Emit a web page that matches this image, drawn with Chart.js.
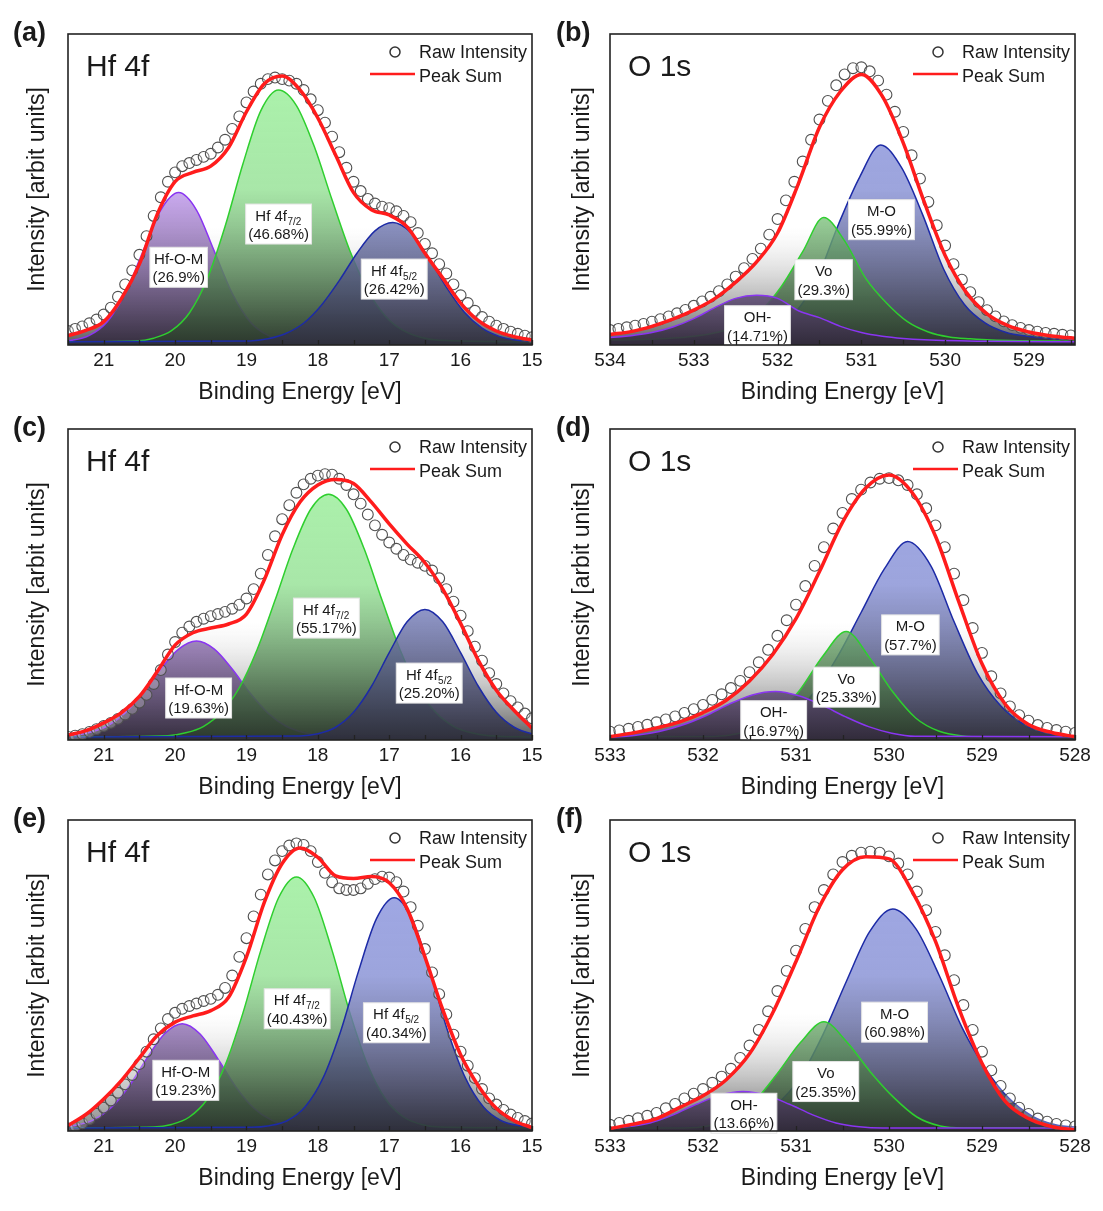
<!DOCTYPE html>
<html>
<head>
<meta charset="utf-8">
<title>XPS Hf 4f / O 1s</title>
<script src="https://cdn.jsdelivr.net/npm/chart.js@4.4.1/dist/chart.umd.min.js"></script>
<style>
  html, body { margin: 0; padding: 0; background: #fff; }
  #page { position: relative; width: 1103px; height: 1211px; overflow: hidden; }
  .panel { position: absolute; }
  .tag { position: absolute; font: bold 27px "Liberation Sans", Arial, sans-serif; line-height: 27px; color: #1a1a1a; }
</style>
</head>
<body>
<div id="page">
  <div class="panel" style="left:0;top:0"><canvas id="cA" width="550" height="410"></canvas></div>
  <div class="panel" style="left:543px;top:0"><canvas id="cB" width="560" height="410"></canvas></div>
  <div class="panel" style="left:0;top:395px"><canvas id="cC" width="550" height="410"></canvas></div>
  <div class="panel" style="left:543px;top:395px"><canvas id="cD" width="560" height="410"></canvas></div>
  <div class="panel" style="left:0;top:786px"><canvas id="cE" width="550" height="410"></canvas></div>
  <div class="panel" style="left:543px;top:786px"><canvas id="cF" width="560" height="410"></canvas></div>
  <div class="tag" style="left:13px;top:19px">(a)</div>
  <div class="tag" style="left:556px;top:19px">(b)</div>
  <div class="tag" style="left:13px;top:414px">(c)</div>
  <div class="tag" style="left:556px;top:414px">(d)</div>
  <div class="tag" style="left:13px;top:805px">(e)</div>
  <div class="tag" style="left:556px;top:805px">(f)</div>
</div>
<script>
// ---- axes ----
const hfTicks = [21, 20, 19, 18, 17, 16, 15];
const hfMinor = [21.5, 20.5, 19.5, 18.5, 17.5, 16.5, 15.5];
const oTicksB = [534, 533, 532, 531, 530, 529];
const oMinorB = [533.5, 532.5, 531.5, 530.5, 529.5, 528.5];
const oTicks = [533, 532, 531, 530, 529, 528];
const oMinor = [532.5, 531.5, 530.5, 529.5, 528.5];

// ---- energy grids ----
const hfRawE = [21.5, 21.4, 21.3, 21.2, 21.1, 21.0, 20.9, 20.8, 20.7, 20.6, 20.5, 20.4, 20.3, 20.2, 20.1, 20.0,
  19.9, 19.8, 19.7, 19.6, 19.5, 19.4, 19.3, 19.2, 19.1, 19.0, 18.9, 18.8, 18.7, 18.6, 18.5, 18.4, 18.3, 18.2, 18.1, 18.0,
  17.9, 17.8, 17.7, 17.6, 17.5, 17.4, 17.3, 17.2, 17.1, 17.0, 16.9, 16.8, 16.7, 16.6, 16.5, 16.4, 16.3, 16.2, 16.1, 16.0,
  15.9, 15.8, 15.7, 15.6, 15.5, 15.4, 15.3, 15.2, 15.1, 15.0];
const hfSumE = [21.5, 21.25, 21.0, 20.75, 20.5, 20.25, 20.0, 19.75, 19.5, 19.25, 19.0, 18.75, 18.5, 18.25, 18.0,
  17.75, 17.5, 17.25, 17.0, 16.75, 16.5, 16.25, 16.0, 15.75, 15.5, 15.25, 15.0];
const oRawEb = [534.0, 533.9, 533.8, 533.7, 533.6, 533.5, 533.4, 533.3, 533.2, 533.1, 533.0, 532.9, 532.8, 532.7, 532.6,
  532.5, 532.4, 532.3, 532.2, 532.1, 532.0, 531.9, 531.8, 531.7, 531.6, 531.5, 531.4, 531.3, 531.2, 531.1, 531.0,
  530.9, 530.8, 530.7, 530.6, 530.5, 530.4, 530.3, 530.2, 530.1, 530.0, 529.9, 529.8, 529.7, 529.6, 529.5, 529.4,
  529.3, 529.2, 529.1, 529.0, 528.9, 528.8, 528.7, 528.6, 528.5];
const oSumEb = [534.0, 533.75, 533.5, 533.25, 533.0, 532.75, 532.5, 532.25, 532.0, 531.75, 531.5, 531.25, 531.0,
  530.75, 530.5, 530.25, 530.0, 529.75, 529.5, 529.25, 529.0, 528.75, 528.5, 528.25];
const oRawE = [533.0, 532.9, 532.8, 532.7, 532.6, 532.5, 532.4, 532.3, 532.2, 532.1, 532.0, 531.9, 531.8, 531.7, 531.6,
  531.5, 531.4, 531.3, 531.2, 531.1, 531.0, 530.9, 530.8, 530.7, 530.6, 530.5, 530.4, 530.3, 530.2, 530.1, 530.0,
  529.9, 529.8, 529.7, 529.6, 529.5, 529.4, 529.3, 529.2, 529.1, 529.0, 528.9, 528.8, 528.7, 528.6, 528.5, 528.4,
  528.3, 528.2, 528.1, 528.0];
const oSumE = [533.0, 532.75, 532.5, 532.25, 532.0, 531.75, 531.5, 531.25, 531.0, 530.75, 530.5, 530.25, 530.0,
  529.75, 529.5, 529.25, 529.0, 528.75, 528.5, 528.25, 528.0];

// ---- (a) Hf 4f ----
const aRaw = [4.5, 5.2, 6.0, 7.0, 8.2, 9.8, 12.0, 15.5, 19.5, 24.0, 29.0, 35.0, 41.5, 47.5, 52.5, 55.5,
  57.5, 58.5, 59.5, 60.5, 61.5, 63.5, 66.0, 69.5, 73.5, 78.0, 81.5, 84.0, 85.5, 86.0, 85.5, 85.0, 84.0, 82.0, 79.0, 75.5,
  71.5, 67.0, 62.0, 57.0, 52.5, 49.5, 47.0, 45.5, 44.5, 44.0, 43.0, 41.5, 39.5, 36.0, 32.5, 29.5, 26.0, 23.0, 19.5, 16.0,
  13.5, 11.0, 9.0, 7.5, 6.2, 5.2, 4.3, 3.6, 3.0, 2.5];
const aSum = [3.0, 4.7, 7.5, 15.0, 26.0, 42.0, 52.5, 55.5, 57.5, 63.5, 75.0, 84.0, 86.5, 82.0, 73.0,
  61.0, 49.0, 43.5, 41.8, 38.0, 29.5, 21.5, 13.5, 7.8, 4.5, 2.7, 1.6];
const aOMx = [21.7, 21.45, 21.2, 20.95, 20.7, 20.45, 20.2, 19.95, 19.7, 19.45, 19.2, 18.95, 18.7, 18.45, 18.2, 15.0];
const aOMy = [1.1, 1.5, 3.1, 7.5, 16.6, 30.1, 43.4, 49.0, 43.4, 30.1, 16.6, 7.5, 3.1, 1.5, 1.1, 1.0];
const a72x = [21.7, 20.55, 20.3, 20.05, 19.8, 19.55, 19.3, 19.05, 18.8, 18.55, 18.3, 18.05, 17.8, 17.55, 17.3, 17.05, 16.8, 16.55, 16.3, 15.0];
const a72y = [1.0, 1.3, 2.2, 4.6, 10.3, 21.2, 38.1, 58.2, 75.3, 82.0, 77.0, 63.8, 46.6, 30.2, 17.5, 9.2, 4.6, 2.4, 1.5, 1.0];
const a52x = [21.7, 18.95, 18.7, 18.45, 18.2, 17.95, 17.7, 17.45, 17.2, 16.95, 16.7, 16.45, 16.2, 15.95, 15.7, 15.45, 15.2, 14.95];
const a52y = [1.0, 1.3, 2.0, 3.7, 7.0, 12.8, 20.7, 29.6, 36.7, 39.4, 36.2, 28.1, 18.6, 10.6, 5.4, 2.7, 1.5, 1.2];

// ---- (c) Hf 4f ----
const cRaw = [1.0, 1.4, 1.9, 2.6, 3.5, 4.5, 5.5, 6.8, 8.2, 10.0, 12.0, 14.5, 18.0, 22.5, 27.5, 31.5,
  34.5, 36.5, 38.0, 39.0, 39.8, 40.5, 41.2, 42.2, 43.5, 45.5, 48.5, 53.5, 59.5, 65.5, 71.0, 75.5, 79.5, 82.2, 84.0, 85.0,
  85.5, 85.3, 84.0, 82.0, 79.0, 76.0, 72.5, 69.0, 66.0, 63.5, 61.5, 59.5, 58.0, 57.0, 56.0, 54.5, 52.0, 48.5, 44.5, 40.0,
  35.0, 30.0, 25.5, 21.5, 18.0, 15.0, 12.5, 10.5, 8.5, 7.0];
const cSum = [1.6, 3.0, 5.5, 8.8, 14.0, 22.0, 30.5, 34.5, 36.0, 37.3, 40.5, 51.5, 66.0, 76.5, 82.0,
  83.8, 82.5, 76.5, 69.5, 63.0, 57.0, 48.5, 37.5, 25.5, 16.0, 9.5, 3.8];
const cOMx = [21.7, 21.45, 21.2, 20.95, 20.7, 20.45, 20.2, 19.95, 19.7, 19.45, 19.2, 18.95, 18.7, 18.45, 18.2, 17.95, 15.0];
const cOMy = [1.1, 1.4, 2.4, 4.5, 8.7, 15.1, 22.8, 29.2, 31.8, 29.2, 22.8, 15.1, 8.7, 4.5, 2.4, 1.4, 1.0];
const c72x = [21.7, 20.1, 19.85, 19.6, 19.35, 19.1, 18.85, 18.6, 18.35, 18.1, 17.85, 17.6, 17.35, 17.1, 16.85, 16.6, 16.35, 16.1, 15.85, 15.6, 15.0];
const c72y = [1.0, 1.4, 2.3, 4.4, 8.9, 16.8, 29.1, 44.9, 61.4, 74.2, 79.0, 74.2, 61.4, 44.9, 29.1, 16.8, 8.9, 4.4, 2.3, 1.4, 1.0];
const c52x = [21.7, 18.25, 18.0, 17.75, 17.5, 17.25, 17.0, 16.75, 16.5, 16.25, 16.0, 15.75, 15.5, 15.25, 15.0, 14.75];
const c52y = [1.0, 1.3, 2.0, 4.1, 8.9, 17.2, 28.1, 38.0, 42.0, 38.0, 28.1, 17.2, 8.9, 4.1, 2.0, 1.3];

// ---- (e) Hf 4f ----
const eRaw = [0.8, 1.5, 2.5, 3.8, 5.5, 7.5, 9.8, 12.3, 15.0, 18.0, 21.5, 25.5, 29.5, 33.0, 36.0, 38.0,
  39.3, 40.2, 41.0, 41.8, 42.5, 43.8, 46.0, 50.0, 56.0, 62.0, 69.0, 76.0, 82.5, 87.0, 90.0, 91.8, 92.5, 92.0, 90.0, 86.5,
  83.0, 80.0, 78.0, 77.5, 77.5, 78.0, 79.5, 81.0, 81.8, 81.5, 80.0, 77.0, 72.0, 66.0, 58.5, 51.0, 44.0, 37.5, 31.0, 25.5,
  21.0, 17.0, 13.5, 10.5, 8.5, 6.8, 5.3, 4.2, 3.2, 2.4];
const eSum = [1.8, 5.3, 10.3, 16.3, 23.5, 30.7, 35.0, 37.0, 38.7, 43.0, 56.0, 73.5, 86.0, 91.0, 88.0,
  82.0, 81.2, 81.8, 79.8, 71.5, 56.0, 39.0, 24.5, 14.5, 7.3, 3.3, 1.1];
const eOMx = [21.65, 21.4, 21.15, 20.9, 20.65, 20.4, 20.15, 19.9, 19.65, 19.4, 19.15, 18.9, 18.65, 18.4, 18.15, 15.0];
const eOMy = [1.2, 1.8, 3.5, 7.4, 14.2, 23.2, 31.2, 34.5, 31.2, 23.2, 14.2, 7.4, 3.5, 1.8, 1.2, 1.0];
const e72x = [21.7, 20.3, 20.05, 19.8, 19.55, 19.3, 19.05, 18.8, 18.55, 18.3, 18.05, 17.8, 17.55, 17.3, 17.05, 16.8, 16.55, 16.3, 15.0];
const e72y = [1.0, 1.3, 2.1, 4.5, 10.2, 21.1, 37.9, 58.0, 75.0, 81.7, 75.0, 58.0, 37.9, 21.1, 10.2, 4.5, 2.1, 1.3, 1.0];
const e52x = [21.7, 18.93, 18.68, 18.43, 18.18, 17.93, 17.68, 17.43, 17.18, 16.93, 16.68, 16.43, 16.18, 15.93, 15.68, 15.43, 15.18, 14.93];
const e52y = [1.0, 1.2, 1.7, 3.3, 7.7, 16.9, 32.1, 51.4, 68.2, 75.0, 68.2, 51.4, 32.1, 16.9, 7.7, 3.3, 1.7, 1.2];

// ---- (b) O 1s ----
const bRaw = [4.8, 5.2, 5.7, 6.2, 6.8, 7.5, 8.3, 9.2, 10.2, 11.3, 12.6, 14.0, 15.5, 17.3, 19.5,
  22.0, 24.7, 27.7, 31.0, 35.5, 40.5, 46.5, 52.5, 59.0, 66.0, 72.5, 78.5, 83.5, 87.0, 89.0, 89.3,
  88.0, 85.0, 80.5, 75.0, 68.5, 61.0, 53.5, 46.0, 38.5, 32.0, 26.0, 21.0, 17.0, 13.8, 11.2, 9.2,
  7.6, 6.4, 5.5, 4.8, 4.3, 3.9, 3.6, 3.3, 3.1];
const bSum = [3.4, 4.3, 6.0, 8.3, 11.2, 14.9, 20.2, 26.7, 36.0, 52.0, 70.0, 81.5, 87.0,
  80.0, 65.0, 46.0, 28.8, 17.0, 10.0, 6.2, 4.2, 3.0, 2.3, 1.9];
const bOHx = [534.2, 534.0, 533.75, 533.5, 533.25, 533.0, 532.75, 532.5, 532.25, 532.0, 531.75, 531.5, 531.25, 531.0, 530.75, 530.5, 530.25, 529.5, 528.3];
const bOHy = [2.2, 2.4, 3.0, 4.0, 5.8, 8.5, 12.0, 15.0, 16.0, 15.0, 11.0, 8.8, 6.0, 4.0, 2.8, 2.1, 1.7, 1.2, 1.0];
const bVox = [534.2, 533.45, 533.2, 532.95, 532.7, 532.45, 532.2, 531.95, 531.7, 531.45, 531.2, 530.95, 530.7, 530.45, 530.2, 529.95, 529.7, 529.45, 528.3];
const bVoy = [1.5, 1.9, 2.3, 3.0, 4.2, 6.5, 11.0, 19.0, 30.0, 41.0, 33.5, 21.5, 13.5, 7.5, 4.2, 2.6, 2.0, 1.6, 1.2];
const bMOx = [534.2, 533.27, 532.77, 532.52, 532.27, 532.02, 531.77, 531.52, 531.27, 531.02, 530.77, 530.52, 530.27, 530.02, 529.77, 529.52, 529.27, 529.02, 528.77, 528.52, 528.3];
const bMOy = [1.2, 1.5, 1.8, 2.3, 3.2, 5.5, 11.0, 22.0, 39.0, 54.0, 64.3, 57.0, 42.0, 24.5, 13.0, 7.0, 4.0, 2.8, 2.2, 1.8, 1.7];

// ---- (d) O 1s ----
const dRaw = [2.7, 3.1, 3.6, 4.2, 4.9, 5.7, 6.6, 7.6, 8.7, 9.9, 11.3, 12.9, 14.7, 16.7, 19.0,
  21.8, 25.0, 29.0, 33.5, 38.5, 43.5, 49.5, 56.0, 62.0, 68.0, 73.0, 77.5, 80.5, 82.8, 84.0, 84.2,
  83.5, 82.0, 79.0, 74.5, 69.0, 62.0, 53.5, 45.0, 36.0, 28.0, 20.5, 15.0, 10.8, 8.0, 6.2, 4.8,
  3.9, 3.2, 2.7, 2.3];
const dSum = [1.1, 2.3, 3.9, 5.8, 8.8, 12.8, 19.0, 27.5, 39.0, 54.0, 70.0, 81.0, 85.2,
  79.5, 65.5, 44.5, 24.5, 11.5, 5.0, 2.4, 1.1];
const dOHx = [533.2, 532.97, 532.72, 532.47, 532.22, 531.97, 531.72, 531.47, 531.22, 530.97, 530.72, 530.47, 530.22, 529.97, 529.72, 527.8];
const dOHy = [1.0, 1.0, 1.5, 2.7, 4.8, 7.8, 11.5, 14.5, 15.6, 14.2, 11.2, 7.5, 4.3, 2.2, 1.2, 1.0];
const dVox = [533.2, 531.96, 531.71, 531.46, 531.21, 530.96, 530.71, 530.46, 530.21, 529.96, 529.71, 529.46, 529.21, 528.96, 527.8];
const dVoy = [1.0, 1.1, 1.6, 3.5, 8.0, 16.0, 27.0, 34.9, 26.5, 15.5, 7.0, 2.8, 1.3, 1.0, 1.0];
const dMOx = [533.2, 531.8, 531.55, 531.3, 531.05, 530.8, 530.55, 530.3, 530.05, 529.8, 529.55, 529.3, 529.05, 528.8, 528.55, 528.3, 528.05, 527.8];
const dMOy = [1.0, 1.3, 2.0, 4.0, 8.0, 15.5, 27.0, 41.0, 55.0, 63.8, 56.0, 38.0, 21.5, 11.0, 5.0, 2.2, 1.2, 1.0];

// ---- (f) O 1s ----
const fRaw = [2.0, 2.6, 3.3, 4.1, 4.9, 5.8, 7.3, 8.7, 10.5, 12.0, 13.5, 15.5, 17.5, 20.0, 23.5,
  27.5, 32.5, 38.5, 45.0, 51.5, 58.0, 65.0, 72.0, 77.5, 82.5, 86.5, 88.5, 89.5, 89.8, 89.5, 88.3,
  86.0, 82.5, 77.0, 71.0, 64.0, 56.5, 48.5, 40.5, 32.5, 25.5, 19.5, 14.5, 10.5, 7.5, 5.5, 4.0,
  3.0, 2.3, 1.8, 1.5];
const fSum = [0.8, 2.2, 4.0, 7.6, 11.3, 16.5, 24.8, 38.0, 54.5, 72.0, 84.0, 88.2, 87.5,
  77.0, 61.0, 39.5, 21.8, 9.5, 4.0, 1.4, 0.3];
const fOHx = [533.2, 533.07, 532.82, 532.57, 532.32, 532.07, 531.82, 531.57, 531.32, 531.07, 530.82, 530.57, 530.32, 530.07, 527.8];
const fOHy = [1.0, 1.0, 1.4, 2.6, 5.2, 8.6, 11.5, 12.7, 11.5, 8.6, 5.2, 2.6, 1.4, 1.0, 1.0];
const fVox = [533.2, 532.2, 531.95, 531.7, 531.45, 531.2, 530.95, 530.7, 530.45, 530.2, 529.95, 529.7, 529.45, 529.2, 527.8];
const fVoy = [1.0, 1.0, 1.6, 4.0, 9.5, 18.5, 28.5, 35.1, 28.5, 19.0, 10.8, 4.5, 1.6, 1.0, 1.0];
const fMOx = [533.2, 531.96, 531.71, 531.46, 531.21, 530.96, 530.71, 530.46, 530.21, 529.96, 529.71, 529.46, 529.21, 528.96, 528.71, 528.46, 528.21, 527.96, 527.8];
const fMOy = [1.0, 1.2, 2.0, 4.0, 8.5, 17.0, 31.0, 48.0, 64.0, 71.4, 65.0, 50.0, 33.0, 20.0, 10.5, 4.8, 2.0, 1.2, 1.0];

// ---- peak labels (name, subscript, share) ----
const labelsA = [['Hf-O-M', '', '(26.9%)'], ['Hf 4f', '7/2', '(46.68%)'], ['Hf 4f', '5/2', '(26.42%)']];
const labelsB = [['OH-', '', '(14.71%)'], ['Vo', '', '(29.3%)'], ['M-O', '', '(55.99%)']];
const labelsC = [['Hf-O-M', '', '(19.63%)'], ['Hf 4f', '7/2', '(55.17%)'], ['Hf 4f', '5/2', '(25.20%)']];
const labelsD = [['OH-', '', '(16.97%)'], ['Vo', '', '(25.33%)'], ['M-O', '', '(57.7%)']];
const labelsE = [['Hf-O-M', '', '(19.23%)'], ['Hf 4f', '7/2', '(40.43%)'], ['Hf 4f', '5/2', '(40.34%)']];
const labelsF = [['OH-', '', '(13.66%)'], ['Vo', '', '(25.35%)'], ['M-O', '', '(60.98%)']];

// where each label box sits, in data coordinates
const spotsA = [[19.95, 25], [18.55, 38.9], [16.93, 21.2]];
const spotsB = [[532.24, 6.2], [531.45, 21], [530.76, 40.3]];
const spotsC = [[19.67, 13.5], [17.88, 39.2], [16.44, 18.3]];
const spotsD = [[531.24, 6.2], [530.46, 17], [529.77, 33.8]];
const spotsE = [[19.85, 16.3], [18.29, 39.3], [16.9, 34.8]];
const spotsF = [[531.56, 5.7], [530.68, 15.9], [529.94, 35]];

const FONT = '"Liberation Sans", Arial, Helvetica, sans-serif';
Chart.defaults.font.family = FONT;
Chart.defaults.color = '#1a1a1a';

const PURPLE = { line: '#8a35f2', stops: [[0, 'rgba(200,152,252,0.80)'], [0.5, 'rgba(186,142,236,0.74)'], [1, 'rgba(50,42,60,0.90)']] };
const GREEN = { line: '#2fcf2f', stops: [[0, 'rgba(152,246,152,0.80)'], [0.5, 'rgba(138,222,138,0.74)'], [1, 'rgba(42,56,42,0.90)']] };
const BLUE = { line: '#1d2ba6', stops: [[0, 'rgba(144,154,230,0.85)'], [0.5, 'rgba(132,142,212,0.80)'], [1, 'rgba(46,46,60,0.90)']] };
const SUMFILL = [[0, 'rgba(255,255,255,0)'], [0.62, 'rgba(210,210,210,0)'], [1, 'rgba(60,60,60,0.85)']];

function pts(xs, ys) {
  return xs.map((x, i) => ({ x: x, y: ys[i] }));
}

function vGrad(stops) {
  return function (c) {
    const chart = c.chart;
    const a = chart.chartArea;
    if (!a) return 'rgba(0,0,0,0)';
    const g = chart.ctx.createLinearGradient(0, a.top, 0, a.bottom);
    stops.forEach(s => g.addColorStop(s[0], s[1]));
    return g;
  };
}

function drawTag(ctx, cx, cy, lab) {
  const name = lab[0], sub = lab[1], pct = lab[2];
  ctx.font = '15px ' + FONT;
  const wName = ctx.measureText(name).width;
  const wPct = ctx.measureText(pct).width;
  ctx.font = '10px ' + FONT;
  const wSub = sub ? ctx.measureText(sub).width + 1 : 0;
  const w = Math.max(wName + wSub, wPct) + 5;
  const h = 40;
  ctx.fillStyle = '#fff';
  ctx.fillRect(cx - w / 2, cy - h / 2, w, h);
  ctx.strokeStyle = '#e4e4e4';
  ctx.lineWidth = 1;
  ctx.strokeRect(cx - w / 2, cy - h / 2, w, h);
  ctx.fillStyle = '#1a1a1a';
  ctx.textBaseline = 'alphabetic';
  ctx.textAlign = 'left';
  const x1 = cx - (wName + wSub) / 2;
  ctx.font = '15px ' + FONT;
  ctx.fillText(name, x1, cy - 3.5);
  if (sub) {
    ctx.font = '10px ' + FONT;
    ctx.fillText(sub, x1 + wName + 0.5, cy + 0.5);
  }
  ctx.font = '15px ' + FONT;
  ctx.textAlign = 'center';
  ctx.fillText(pct, cx, cy + 15);
}

const decor = {
  id: 'decor',
  afterDatasetsDraw(chart, args, o) {
    const ctx = chart.ctx, x = chart.scales.x, y = chart.scales.y;
    ctx.save();
    o.labels.forEach((lab, i) => {
      drawTag(ctx, x.getPixelForValue(o.spots[i][0]), y.getPixelForValue(o.spots[i][1]), lab);
    });
    ctx.restore();
  },
  afterDraw(chart, args, o) {
    const ctx = chart.ctx, a = chart.chartArea, x = chart.scales.x;
    ctx.save();
    // inward tick marks
    ctx.strokeStyle = '#222';
    ctx.lineWidth = 1.3;
    o.ticks.concat(o.minor).forEach(v => {
      const px = Math.round(x.getPixelForValue(v)) + 0.5;
      ctx.beginPath();
      ctx.moveTo(px, a.bottom);
      ctx.lineTo(px, a.bottom - 5);
      ctx.stroke();
    });
    // frame
    ctx.lineWidth = 1.6;
    ctx.strokeStyle = '#222';
    ctx.strokeRect(a.left, a.top, a.right - a.left, a.bottom - a.top);
    // panel title
    ctx.fillStyle = '#1a1a1a';
    ctx.textBaseline = 'alphabetic';
    ctx.textAlign = 'left';
    ctx.font = '30px ' + FONT;
    ctx.fillText(o.title, a.left + 18, a.top + 42);
    // legend
    ctx.font = '18px ' + FONT;
    ctx.beginPath();
    ctx.arc(a.right - 137, a.top + 18, 5, 0, Math.PI * 2);
    ctx.lineWidth = 1.5;
    ctx.strokeStyle = '#333';
    ctx.stroke();
    ctx.fillText('Raw Intensity', a.right - 113, a.top + 24);
    ctx.beginPath();
    ctx.moveTo(a.right - 162, a.top + 40);
    ctx.lineTo(a.right - 117, a.top + 40);
    ctx.lineWidth = 2.5;
    ctx.strokeStyle = '#ff1c1c';
    ctx.stroke();
    ctx.fillText('Peak Sum', a.right - 113, a.top + 48);
    ctx.restore();
  }
};

function makePanel(p) {
  const ds = [];
  ds.push({
    label: 'Peak Sum', data: pts(p.sumE, p.sum), borderColor: '#ff1c1c', borderWidth: 3.5,
    pointRadius: 0, fill: false, cubicInterpolationMode: 'monotone', order: 0
  });
  ds.push({
    label: 'Raw Intensity', data: pts(p.rawE, p.raw), showLine: false, pointRadius: 5.4,
    pointBorderWidth: 1.1, pointBorderColor: '#505050', pointBackgroundColor: 'rgba(255,255,255,0.25)', order: 1
  });
  p.comps.forEach((c, i) => {
    ds.push({
      data: pts(c.x, c.y), borderColor: c.s.line, borderWidth: 1.5, pointRadius: 0,
      fill: 'origin', backgroundColor: vGrad(c.s.stops), cubicInterpolationMode: 'monotone', order: 10 - i
    });
  });
  ds.push({
    data: pts(p.sumE, p.sum), borderWidth: 0, borderColor: 'rgba(0,0,0,0)', pointRadius: 0,
    fill: 'origin', backgroundColor: vGrad(SUMFILL), cubicInterpolationMode: 'monotone', order: 20
  });

  return new Chart(document.getElementById(p.id), {
    type: 'line',
    data: { datasets: ds },
    options: {
      responsive: false,
      animation: false,
      events: [],
      layout: { padding: { top: 34, right: p.padRight, left: 0, bottom: 0 } },
      plugins: {
        legend: { display: false },
        tooltip: { enabled: false },
        decor: { title: p.title, ticks: p.ticks, minor: p.minor, labels: p.labels, spots: p.spots }
      },
      scales: {
        x: {
          type: 'linear', reverse: true, min: p.xMin, max: p.xMax,
          afterBuildTicks: s => { s.ticks = p.ticks.map(v => ({ value: v })); },
          afterFit: s => { s.height = 65; },
          ticks: { autoSkip: false, maxRotation: 0, padding: 4, font: { size: 19 }, color: '#1a1a1a' },
          grid: { display: false, drawTicks: false },
          border: { display: false },
          title: { display: true, text: 'Binding Energy [eV]', font: { size: 23 }, color: '#1a1a1a', padding: { top: 0, bottom: 4 } }
        },
        y: {
          min: 0, max: 100,
          afterFit: s => { s.width = p.yWidth; },
          ticks: { display: false },
          grid: { display: false, drawTicks: false },
          border: { display: false },
          title: { display: true, text: 'Intensity [arbit units]', font: { size: 23 }, color: '#1a1a1a', padding: { top: p.yPad, bottom: 0 } }
        }
      }
    },
    plugins: [decor]
  });
}

const hfLeft = { xMin: 15, xMax: 21.5, ticks: hfTicks, minor: hfMinor, title: 'Hf 4f', rawE: hfRawE, sumE: hfSumE, padRight: 18, yWidth: 68, yPad: 24 };

makePanel(Object.assign({}, hfLeft, {
  id: 'cA', raw: aRaw, sum: aSum, labels: labelsA, spots: spotsA,
  comps: [{ s: PURPLE, x: aOMx, y: aOMy }, { s: GREEN, x: a72x, y: a72y }, { s: BLUE, x: a52x, y: a52y }]
}));
makePanel(Object.assign({}, hfLeft, {
  id: 'cC', raw: cRaw, sum: cSum, labels: labelsC, spots: spotsC,
  comps: [{ s: PURPLE, x: cOMx, y: cOMy }, { s: GREEN, x: c72x, y: c72y }, { s: BLUE, x: c52x, y: c52y }]
}));
makePanel(Object.assign({}, hfLeft, {
  id: 'cE', raw: eRaw, sum: eSum, labels: labelsE, spots: spotsE,
  comps: [{ s: PURPLE, x: eOMx, y: eOMy }, { s: GREEN, x: e72x, y: e72y }, { s: BLUE, x: e52x, y: e52y }]
}));

makePanel({
  id: 'cB', xMin: 528.45, xMax: 534, ticks: oTicksB, minor: oMinorB, title: 'O 1s',
  rawE: oRawEb, raw: bRaw, sumE: oSumEb, sum: bSum, padRight: 28, yWidth: 67, yPad: 26,
  labels: labelsB, spots: spotsB,
  comps: [{ s: BLUE, x: bMOx, y: bMOy }, { s: GREEN, x: bVox, y: bVoy }, { s: PURPLE, x: bOHx, y: bOHy }]
});
const oRight = { xMin: 528, xMax: 533, ticks: oTicks, minor: oMinor, title: 'O 1s', rawE: oRawE, sumE: oSumE, padRight: 28, yWidth: 67, yPad: 26 };
makePanel(Object.assign({}, oRight, {
  id: 'cD', raw: dRaw, sum: dSum, labels: labelsD, spots: spotsD,
  comps: [{ s: BLUE, x: dMOx, y: dMOy }, { s: GREEN, x: dVox, y: dVoy }, { s: PURPLE, x: dOHx, y: dOHy }]
}));
makePanel(Object.assign({}, oRight, {
  id: 'cF', raw: fRaw, sum: fSum, labels: labelsF, spots: spotsF,
  comps: [{ s: BLUE, x: fMOx, y: fMOy }, { s: GREEN, x: fVox, y: fVoy }, { s: PURPLE, x: fOHx, y: fOHy }]
}));
</script>
</body>
</html>
